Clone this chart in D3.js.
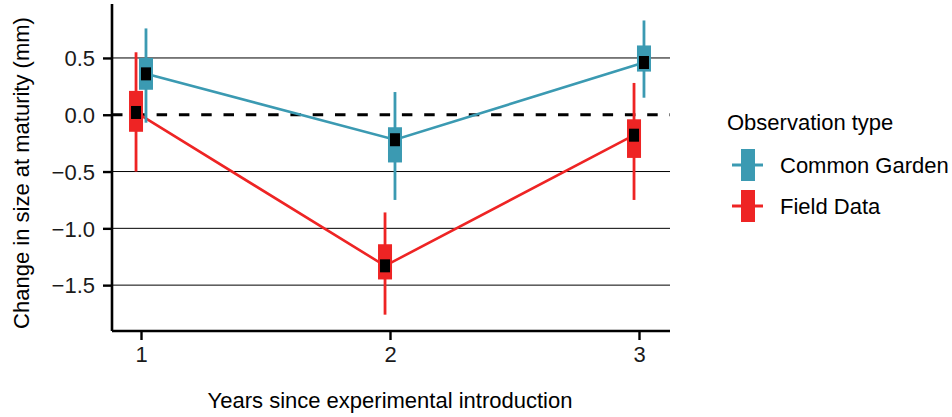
<!DOCTYPE html>
<html>
<head>
<meta charset="utf-8">
<script src="https://cdn.jsdelivr.net/npm/d3@7"></script>
<style>
  body { margin: 0; background: #fff; }
  svg { display: block; font-family: "Liberation Sans", Arial, sans-serif; }
</style>
</head>
<body>
<svg id="chart"></svg>
<script>
const years = [1, 2, 3];
const yTicks = [0.5, 0.0, -0.5, -1.0, -1.5];
const seriesNames = ['Common Garden', 'Field Data'];

const gardenMean = [0.36, -0.22, 0.46];
const gardenLo50 = [0.22, -0.42, 0.38];
const gardenHi50 = [0.50, -0.11, 0.61];
const gardenLo95 = [-0.07, -0.75, 0.15];
const gardenHi95 = [0.76, 0.20, 0.83];

const fieldMean = [0.02, -1.33, -0.18];
const fieldLo50 = [-0.15, -1.45, -0.38];
const fieldHi50 = [0.21, -1.14, -0.04];
const fieldLo95 = [-0.50, -1.76, -0.75];
const fieldHi95 = [0.55, -0.86, 0.28];

(function () {
    const width = 952;
    const height = 417;
    const colors = ['#3B9AB2', '#EE2424'];
    const dodge = [0.02, -0.02];

    const series = [
        { name: seriesNames[0], mean: gardenMean, lo50: gardenLo50, hi50: gardenHi50, lo95: gardenLo95, hi95: gardenHi95 },
        { name: seriesNames[1], mean: fieldMean, lo50: fieldLo50, hi50: fieldHi50, lo95: fieldLo95, hi95: fieldHi95 }
    ].map((s, k) => ({
        ...s,
        color: colors[k],
        pts: years.map((yr, i) => ({
            x: yr + dodge[k], m: s.mean[i],
            l50: s.lo50[i], h50: s.hi50[i], l95: s.lo95[i], h95: s.hi95[i]
        }))
    }));

    const xScale = d3.scaleLinear()
        .domain([0.8835, 3.1245])
        .range([112, 670]);

    const yScale = d3.scaleLinear()
        .domain([-1.895, 0.975])
        .range([330, 4]);

    const svg = d3.select('#chart')
        .attr('width', width)
        .attr('height', height);

    // grid lines
    svg.append('g')
        .selectAll('line')
        .data(yTicks.filter(d => d !== 0))
        .join('line')
        .attr('x1', 112)
        .attr('x2', 670)
        .attr('y1', d => yScale(d))
        .attr('y2', d => yScale(d))
        .attr('stroke', '#000')
        .attr('stroke-width', 1);

    svg.append('line')
        .attr('x1', 112)
        .attr('x2', 670)
        .attr('y1', yScale(0))
        .attr('y2', yScale(0))
        .attr('stroke', '#000')
        .attr('stroke-width', 2.8)
        .attr('stroke-dasharray', '10.5,11.8');

    // axes
    const yAxis = d3.axisLeft(yScale)
        .tickValues(yTicks)
        .tickFormat(d3.format('.1f'))
        .tickSize(9)
        .tickPadding(6);

    const gy = svg.append('g')
        .attr('transform', 'translate(112,0)')
        .call(yAxis);

    const xAxis = d3.axisBottom(xScale)
        .tickValues(years)
        .tickFormat(d3.format('d'))
        .tickSize(9)
        .tickPadding(6);

    const gx = svg.append('g')
        .attr('transform', 'translate(0,331)')
        .call(xAxis);

    [gx, gy].forEach(g => {
        g.select('.domain').attr('stroke', '#000').attr('stroke-width', 2.6);
        g.selectAll('.tick line').attr('stroke', '#000').attr('stroke-width', 2.4);
        g.selectAll('.tick text')
            .attr('fill', '#1a1a1a')
            .attr('font-size', 22)
            .attr('font-family', '"Liberation Sans", Arial, sans-serif');
    });
    gy.select('.domain').attr('d', 'M0,4V331');
    gx.select('.domain').attr('d', 'M112,0H670');
    gy.selectAll('.tick text').attr('x', -17).attr('dy', '0.35em');
    gx.selectAll('.tick text').attr('y', 15);

    // axis titles
    svg.append('text')
        .attr('x', 390)
        .attr('y', 408)
        .attr('text-anchor', 'middle')
        .attr('font-size', 22)
        .attr('fill', '#000')
        .text('Years since experimental introduction');

    svg.append('text')
        .attr('transform', 'translate(29,173) rotate(-90)')
        .attr('text-anchor', 'middle')
        .attr('font-size', 22)
        .attr('fill', '#000')
        .text('Change in size at maturity (mm)');

    // series
    const line = d3.line()
        .x(d => xScale(d.x))
        .y(d => yScale(d.m));

    series.forEach(s => {
        svg.append('path')
            .datum(s.pts)
            .attr('fill', 'none')
            .attr('stroke', s.color)
            .attr('stroke-width', 2.6)
            .attr('d', line);
    });

    series.forEach(s => {
        const g = svg.append('g');
        g.selectAll('line.ci')
            .data(s.pts)
            .join('line')
            .attr('class', 'ci')
            .attr('x1', d => xScale(d.x))
            .attr('x2', d => xScale(d.x))
            .attr('y1', d => yScale(d.h95))
            .attr('y2', d => yScale(d.l95))
            .attr('stroke', s.color)
            .attr('stroke-width', 2.8);
        g.selectAll('rect.box')
            .data(s.pts)
            .join('rect')
            .attr('class', 'box')
            .attr('x', d => xScale(d.x) - 7)
            .attr('width', 14)
            .attr('y', d => yScale(d.h50))
            .attr('height', d => yScale(d.l50) - yScale(d.h50))
            .attr('fill', s.color);
        g.selectAll('rect.mean')
            .data(s.pts)
            .join('rect')
            .attr('class', 'mean')
            .attr('x', d => xScale(d.x) - 5)
            .attr('width', 10)
            .attr('y', d => yScale(d.m) - 6.5)
            .attr('height', 13)
            .attr('fill', '#000');
    });

    // legend
    const legend = svg.append('g').attr('transform', 'translate(727,0)');
    legend.append('text')
        .attr('x', 0)
        .attr('y', 130)
        .attr('font-size', 22)
        .attr('fill', '#000')
        .text('Observation type');

    const items = legend.selectAll('g.item')
        .data(series)
        .join('g')
        .attr('class', 'item')
        .attr('transform', (d, i) => `translate(0,${165 + i * 41})`);
    items.append('line')
        .attr('x1', 5)
        .attr('x2', 36)
        .attr('stroke', d => d.color)
        .attr('stroke-width', 3);
    items.append('rect')
        .attr('x', 14)
        .attr('width', 14)
        .attr('y', -16)
        .attr('height', 32)
        .attr('fill', d => d.color);
    items.append('text')
        .attr('x', 53)
        .attr('dy', '0.35em')
        .attr('font-size', 22)
        .attr('fill', '#000')
        .text(d => d.name);
})();
</script>
</body>
</html>
